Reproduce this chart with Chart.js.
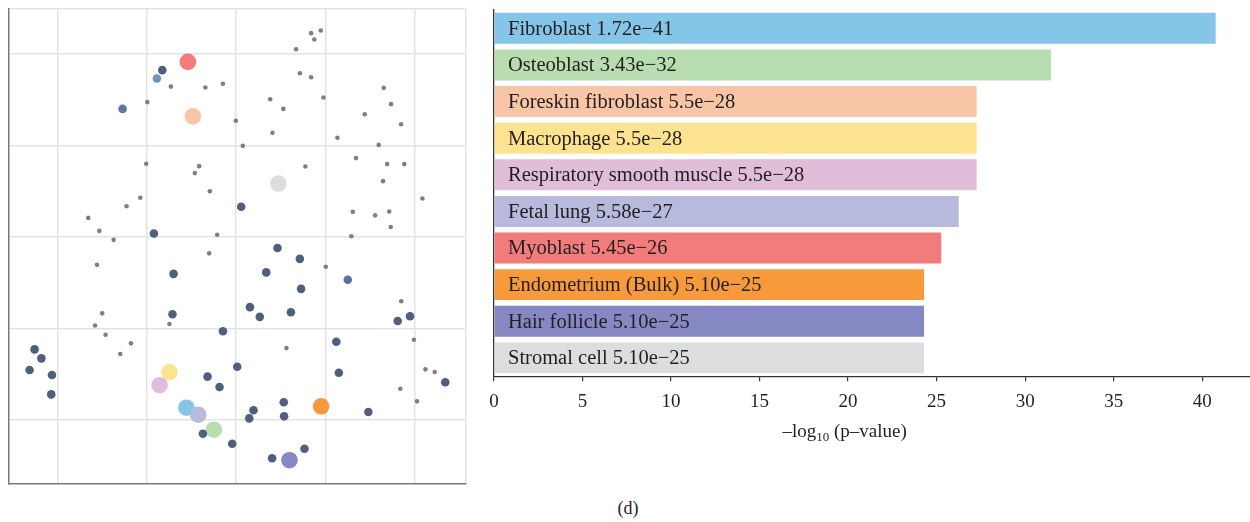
<!DOCTYPE html>
<html>
<head>
<meta charset="utf-8">
<script src="https://cdn.jsdelivr.net/npm/chart.js@4"></script>
<style>
  html, body { margin: 0; padding: 0; background: #fff; }
  body { width: 1250px; height: 522px; position: relative; overflow: hidden; }
  #mapBox { position: absolute; left: 0; top: 0; width: 475px; height: 495px; }
  #barBox { position: absolute; left: 470px; top: 0; width: 780px; height: 460px; }
  #panel { position: absolute; left: 600px; top: 498px; width: 56px; text-align: center;
           font: 18px "Liberation Serif", serif; color: #231f20; }
</style>
</head>
<body>
<div id="mapBox"><canvas id="mapChart"></canvas></div>
<div id="barBox"><canvas id="barChart"></canvas></div>
<div id="panel">(d)</div>
<script>
const cellTypes = ["Fibroblast", "Osteoblast", "Foreskin fibroblast", "Macrophage",
  "Respiratory smooth muscle", "Fetal lung", "Myoblast", "Endometrium (Bulk)",
  "Hair follicle", "Stromal cell"];
const pValueText = ["1.72e\u221241", "3.43e\u221232", "5.5e\u221228", "5.5e\u221228", "5.5e\u221228",
  "5.58e\u221227", "5.45e\u221226", "5.10e\u221225", "5.10e\u221225", "5.10e\u221225"];
// -log10(p) of the values above
const negLogP = [40.76, 31.46, 27.26, 27.26, 27.26, 26.25, 25.26, 24.29, 24.29, 24.29];
const cellColors = ["#84c5e8", "#b8ddb1", "#f8c6a6", "#fde28f", "#e0bdd9",
  "#b8badd", "#f27c7b", "#f79a3b", "#8588c2", "#dcddde"];
const xTicks = [0, 5, 10, 15, 20, 25, 30, 35, 40];

// embedding positions of the highlighted cell types (same order as cellTypes)
const cellX = [-2.78, -1.25, -2.42, -3.73, -4.28, -2.12, -2.70, 4.75, 2.98, 2.36];
const cellY = [-9.33, -10.53, 6.60, -7.39, -8.10, -9.71, 9.58, -9.25, -12.20, 2.93];

// other libraries: low-scoring (small grey dots)
const minorX = [4.19, 4.73, 4.37, 3.35, 3.56, 4.19, 1.90, 2.64, 4.88, -0.02, 2.03, 0.37, 5.66,
  7.19, 8.25, 8.66, 9.22, 7.97, 3.87, 6.70, 8.44, 9.40, 8.21, 10.41, 6.52, 7.77, 8.56, 8.64,
  6.44, -3.65, -1.72, -0.74, -4.97, -5.03, -2.07, -2.31, -1.47, -5.36, -6.13, -8.27, -7.65,
  -6.85, -1.06, -7.78, -1.51, -7.49, -7.89, -7.30, -5.88, -6.48, -3.73, 5.01, 9.23, 2.81,
  9.94, 10.58, 11.10, 9.18, 10.11];
const minorY = [11.15, 11.30, 10.80, 10.27, 8.96, 8.74, 7.54, 7.01, 7.63, 6.36, 5.70, 4.99, 5.43,
  6.72, 8.16, 7.27, 6.17, 5.04, 3.86, 4.32, 3.99, 3.99, 3.06, 2.11, 1.38, 1.19, 1.40, 0.55,
  0.05, 8.23, 8.18, 8.38, 7.38, 4.01, 3.88, 3.50, 2.51, 2.15, 1.69, 1.05, 0.34,
  -0.15, 0.13, -1.51, -0.89, -4.17, -4.83, -5.34, -5.81, -6.39, -4.75, -1.62, -3.51, -6.07,
  -5.61, -7.23, -7.38, -8.29, -8.98];

// other libraries: significant but not in the top ten
const majorX = [-4.13, -4.60, 0.28, -3.50, -3.56, -0.74, -11.27, -10.89, -11.55, -10.30, -10.34,
  0.06, -1.60, -0.93, -1.86, -0.22, 2.31, 3.56, 1.68, 3.63, 0.77, 1.32, 3.06, 9.03, 9.72,
  5.60, 5.74, 11.69, 2.66, 0.97, 0.73, 2.68, 7.39, 2.01, 3.82];
const majorY = [9.13, 0.20, 1.66, -2.01, -4.22, -5.15, -6.14, -6.63, -7.27, -7.54, -8.60,
  -7.09, -7.63, -8.20, -10.75, -11.30, -0.60, -1.19, -1.93, -2.83, -3.83, -4.36, -4.11, -4.59, -4.33,
  -5.72, -7.42, -7.94, -9.03, -9.47, -9.91, -9.80, -9.56, -12.09, -11.57];
const blueX = [-4.43, -6.35, 6.24];
const blueY = [8.67, 7.01, -2.33];

const pairs = (xs, ys) => xs.map((x, i) => ({ x: x, y: ys[i] }));
const serif = '"Liberation Serif", "Times New Roman", serif';

// ---- left: library map ----
const mapGrid = { color: "#e3e3e3", lineWidth: 1.5, drawTicks: false };
new Chart(document.getElementById("mapChart"), {
  type: "scatter",
  data: {
    datasets: [
      { data: pairs(minorX, minorY), backgroundColor: "#7d7f85", borderWidth: 0, pointRadius: 2.3 },
      { data: pairs(majorX, majorY), backgroundColor: "#4f5f7d", borderWidth: 0, pointRadius: 4.3 },
      { data: pairs(blueX, blueY), backgroundColor: ["#6c95bd", "#5a7aa6", "#56739c"], borderWidth: 0, pointRadius: 4.3 },
      { data: pairs(cellX, cellY), backgroundColor: cellColors, borderWidth: 0, pointRadius: 8.3 },
    ],
  },
  options: {
    responsive: true,
    maintainAspectRatio: false,
    animation: false,
    layout: { padding: { left: 8, top: 8, right: 9, bottom: 11 } },
    plugins: { legend: { display: false }, tooltip: { enabled: false } },
    elements: { point: { hoverRadius: 0 } },
    scales: {
      x: {
        min: -12.74, max: 12.85,
        afterBuildTicks: (axis) => { axis.ticks = [-10, -5, 0, 5, 10, 12.85].map(v => ({ value: v })); },
        ticks: { display: false },
        grid: mapGrid,
        border: { color: "#7a7a7a", width: 1.5 },
      },
      y: {
        min: -13.5, max: 12.51,
        afterBuildTicks: (axis) => { axis.ticks = [-10, -5, 0, 5, 10, 12.51].map(v => ({ value: v })); },
        ticks: { display: false },
        grid: mapGrid,
        border: { color: "#7a7a7a", width: 1.5 },
      },
    },
  },
});

// ---- right: enrichment bars ----
const barLabels = {
  id: "barLabels",
  afterDatasetsDraw(chart) {
    const c = chart.ctx;
    const meta = chart.getDatasetMeta(0);
    c.save();
    c.font = "20.5px " + serif;
    c.fillStyle = "#231f20";
    c.textBaseline = "middle";
    meta.data.forEach((bar, i) => {
      c.fillText(cellTypes[i] + " " + pValueText[i], chart.chartArea.left + 14, bar.y + 1);
    });
    c.restore();
  },
};
const axisTitle = {
  id: "axisTitle",
  afterDraw(chart) {
    const c = chart.ctx;
    const cx = chart.scales.x.getPixelForValue(19.8);
    const y = chart.chartArea.bottom + 61;
    c.save();
    c.fillStyle = "#231f20";
    c.textBaseline = "alphabetic";
    const a = "\u2013log", b = "10", d = " (p\u2013value)";
    c.font = "19px " + serif;
    const wa = c.measureText(a).width, wd = c.measureText(d).width;
    c.font = "13px " + serif;
    const wb = c.measureText(b).width;
    let x = cx - (wa + wb + wd) / 2;
    c.font = "19px " + serif;
    c.fillText(a, x, y);
    x += wa;
    c.font = "13px " + serif;
    c.fillText(b, x, y + 4);
    x += wb;
    c.font = "19px " + serif;
    c.fillText(d, x, y);
    c.restore();
  },
};

new Chart(document.getElementById("barChart"), {
  type: "bar",
  data: {
    labels: cellTypes,
    datasets: [{
      data: negLogP,
      backgroundColor: cellColors,
      borderWidth: 0,
      barPercentage: 0.845,
      categoryPercentage: 1,
    }],
  },
  options: {
    indexAxis: "y",
    responsive: true,
    maintainAspectRatio: false,
    animation: false,
    layout: { padding: { left: 24, top: 10, right: 0, bottom: 38 } },
    plugins: { legend: { display: false }, tooltip: { enabled: false } },
    scales: {
      x: {
        min: 0, max: 42.7,
        afterBuildTicks: (axis) => { axis.ticks = xTicks.map(v => ({ value: v })); },
        ticks: { color: "#231f20", font: { family: serif, size: 19 }, padding: 9 },
        grid: { drawOnChartArea: false, color: "#333", tickLength: 5, lineWidth: 1.2 },
        border: { color: "#333", width: 1.3 },
      },
      y: {
        ticks: { display: false },
        grid: { display: false, drawTicks: false },
        border: { color: "#333", width: 1.3 },
      },
    },
  },
  plugins: [barLabels, axisTitle],
});
</script>
</body>
</html>
